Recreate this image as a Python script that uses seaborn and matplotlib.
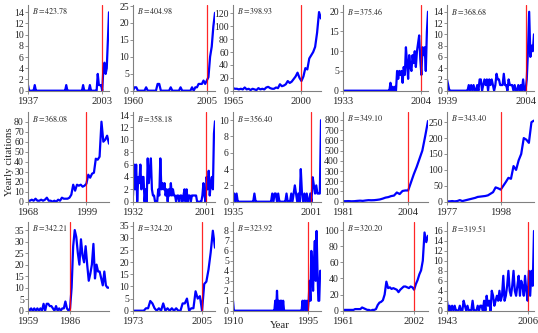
import numpy as np
import pandas as pd
import matplotlib.pyplot as plt
import seaborn as sns

START_YEARS = [1937, 1960, 1965, 1933, 1939,
               1968, 1932, 1935, 1981, 1977,
               1959, 1973, 1910, 1961, 1943]
BREAK_YEARS = [2003, 2005, 2000, 2004, 2004,
               1999, 2001, 2001, 2004, 1998,
               1986, 2005, 1995, 2002, 2006]
B_VALUES = [423.78, 404.98, 398.93, 375.46, 368.68,
            368.08, 358.18, 356.40, 349.10, 343.40,
            342.21, 324.20, 323.92, 320.20, 319.51]

cites_1 = [1, 0, 0, 0, 0, 0, 1, 0, 0, 0,
           0, 0, 0, 0, 0, 0, 0, 0, 0, 0,
           0, 0, 0, 0, 0, 0, 0, 0, 0, 0,
           0, 0, 0, 0, 1, 0, 0, 0, 0, 0,
           0, 0, 0, 0, 0, 0, 0, 0, 0, 1,
           0, 0, 0, 0, 0, 1, 0, 0, 0, 0,
           0, 0, 3, 1, 1, 1, 0, 4, 5, 3,
           4, 9, 14]
cites_2 = [0, 1, 1, 0, 0, 0, 0, 0, 1, 0,
           0, 0, 0, 0, 0, 2, 2, 0, 0, 0,
           0, 0, 0, 1, 0, 0, 0, 0, 0, 1,
           0, 0, 0, 0, 0, 0, 1, 0, 1, 1,
           2, 2, 2, 3, 2, 3, 4, 10, 13, 19,
           23]
cites_3 = [4, 3, 3, 2, 3, 2, 5, 2, 3, 1,
           3, 2, 1, 4, 2, 3, 2, 5, 6, 4,
           3, 3, 5, 4, 10, 7, 8, 10, 15, 12,
           14, 18, 22, 28, 20, 15, 22, 35, 33, 50,
           55, 60, 68, 90, 122, 112]
cites_4 = [0, 0, 0, 0, 0, 0, 0, 0, 0, 0,
           0, 0, 0, 0, 0, 0, 0, 0, 0, 0,
           0, 0, 0, 0, 0, 0, 0, 0, 0, 0,
           0, 0, 0, 0, 0, 0, 0, 0, 0, 0,
           0, 0, 0, 2, 0, 1, 0, 1, 0, 5,
           3, 5, 4, 5, 2, 6, 4, 11, 7, 3,
           9, 6, 5, 9, 7, 10, 6, 10, 12, 14,
           8, 4, 11, 9, 11, 5, 15, 20]
cites_5 = [2, 1, 0, 0, 0, 0, 0, 0, 0, 0,
           0, 0, 0, 0, 0, 0, 0, 0, 1, 0,
           1, 0, 1, 0, 0, 1, 0, 2, 2, 0,
           1, 2, 1, 2, 0, 2, 1, 2, 1, 0,
           1, 3, 2, 2, 1, 1, 1, 3, 1, 1,
           0, 2, 1, 1, 1, 0, 1, 0, 0, 1,
           0, 1, 0, 2, 0, 0, 2, 7, 14, 6,
           8, 7, 10]
cites_6 = [1, 1, 2, 1, 3, 1, 1, 2, 1, 2,
           4, 1, 1, 0, 1, 0, 2, 1, 4, 3,
           3, 3, 4, 7, 17, 11, 17, 16, 17, 15,
           16, 18, 27, 24, 28, 29, 43, 42, 45, 80,
           60, 62, 66, 58]
cites_7 = [1, 6, 2, 6, 0, 4, 3, 6, 2, 4,
           4, 0, 2, 0, 7, 3, 5, 7, 2, 1,
           1, 0, 0, 0, 2, 1, 7, 2, 3, 2,
           3, 1, 2, 0, 2, 1, 3, 1, 2, 1,
           1, 0, 1, 1, 0, 1, 1, 0, 1, 2,
           0, 2, 0, 1, 1, 0, 1, 1, 1, 1,
           1, 0, 0, 0, 0, 0, 1, 3, 1, 0,
           4, 2, 5, 1, 3, 4, 2, 11, 13]
cites_8 = [0, 1, 0, 1, 0, 0, 0, 0, 0, 0,
           0, 0, 0, 0, 0, 0, 0, 0, 1, 0,
           0, 0, 0, 0, 0, 0, 0, 0, 0, 0,
           0, 0, 0, 1, 0, 1, 1, 0, 1, 0,
           0, 0, 0, 0, 0, 1, 0, 0, 0, 1,
           0, 1, 2, 1, 0, 1, 0, 4, 1, 0,
           1, 0, 1, 0, 0, 1, 0, 3, 2, 1,
           2, 1, 1, 1, 10]
cites_9 = [5, 5, 6, 4, 5, 8, 10, 8, 12, 15,
           14, 15, 18, 22, 30, 40, 45, 55, 60, 90,
           75, 105, 110, 110, 190, 270, 340, 420, 500, 640,
           790]
cites_10 = [1, 1, 2, 1, 2, 5, 2, 4, 6, 8,
            10, 12, 15, 16, 17, 18, 20, 25, 30, 45,
            42, 38, 50, 62, 75, 72, 112, 100, 130, 150,
            200, 195, 185, 250, 255]
cites_11 = [1, 0, 1, 0, 1, 0, 1, 0, 1, 0,
            3, 0, 3, 3, 2, 2, 1, 0, 2, 0,
            1, 0, 1, 1, 4, 1, 0, 1, 10, 28,
            35, 32, 25, 20, 31, 24, 21, 28, 20, 13,
            16, 20, 29, 14, 20, 17, 17, 14, 11, 17,
            11, 10, 10]
cites_12 = [0, 0, 0, 0, 0, 0, 1, 1, 4, 3,
            1, 0, 1, 0, 3, 0, 1, 0, 1, 0,
            1, 0, 0, 3, 3, 5, 0, 1, 1, 8,
            5, 6, 0, 11, 12, 17, 24, 33, 26]
cites_13 = [1, 0, 0, 0, 0, 0, 0, 0, 0, 0,
            0, 0, 0, 0, 0, 0, 0, 0, 0, 0,
            0, 0, 0, 0, 0, 0, 0, 0, 0, 0,
            0, 0, 0, 0, 0, 0, 0, 0, 0, 0,
            0, 0, 0, 0, 0, 0, 0, 0, 1, 0,
            2, 0, 1, 0, 1, 1, 0, 1, 0, 0,
            0, 0, 0, 0, 0, 0, 0, 0, 0, 0,
            0, 0, 0, 0, 0, 0, 0, 0, 0, 1,
            0, 1, 1, 0, 1, 0, 1, 3, 1, 6,
            4, 2, 5, 7, 3, 8, 4, 1, 1, 4,
            4]
cites_14 = [1, 1, 1, 1, 1, 1, 1, 2, 2, 2,
            2, 4, 3, 2, 1, 1, 0, 1, 1, 2,
            7, 10, 11, 13, 20, 36, 28, 29, 27, 28,
            27, 26, 23, 26, 28, 30, 30, 29, 28, 30,
            29, 26, 33, 38, 45, 50, 62, 97, 85, 93]
cites_15 = [2, 0, 1, 0, 1, 0, 1, 0, 0, 0,
            1, 0, 0, 2, 1, 0, 1, 0, 0, 0,
            2, 0, 0, 0, 1, 0, 1, 1, 0, 2,
            0, 3, 1, 2, 0, 4, 3, 1, 2, 3,
            2, 4, 2, 3, 7, 2, 3, 5, 8, 4,
            3, 5, 8, 4, 3, 5, 7, 3, 6, 5,
            3, 7, 4, 2, 8, 3, 8, 5, 16]

ALL_CITES = [cites_1, cites_2, cites_3, cites_4, cites_5,
             cites_6, cites_7, cites_8, cites_9, cites_10,
             cites_11, cites_12, cites_13, cites_14, cites_15]

# axis styling per panel (y max, tick step)
Y_LIMITS = [15.3, 25.3, 133, 21.7, 15.2,
            89.7, 14.5, 11.0, 878, 282,
            38.5, 36.6, 8.9, 110, 17.8]
Y_STEPS = [2, 5, 20, 5, 2, 10, 2, 2, 100, 50, 5, 5, 1, 20, 2]

# panel frame in pixels of the 538x333 canvas
COL_LEFT = [28, 133, 233, 343, 447]
COL_RIGHT = [109, 215, 321, 428, 534]
ROW_TOP = [5, 112, 222]
ROW_BOTTOM = [90.7, 201.7, 310.7]
W, H = 538, 333


def build_frame():
    parts = []
    for i, (start, vals) in enumerate(zip(START_YEARS, ALL_CITES)):
        parts.append(pd.DataFrame({'panel': i,
                                   'year': np.arange(start, start + len(vals)),
                                   'cites': vals}))
    return pd.concat(parts, ignore_index=True)


def main():
    sns.set_theme(style="ticks")
    plt.rcParams['font.family'] = ['Liberation Serif', 'DejaVu Serif']
    plt.rcParams['mathtext.fontset'] = 'stix'

    df = build_frame()

    fig = plt.figure(figsize=(W / 100, H / 100), dpi=100)

    for i in range(15):
        r, c = divmod(i, 5)
        rect = [COL_LEFT[c] / W, 1 - ROW_BOTTOM[r] / H,
                (COL_RIGHT[c] - COL_LEFT[c]) / W,
                (ROW_BOTTOM[r] - ROW_TOP[r]) / H]
        ax = fig.add_axes(rect)
        d = df[df['panel'] == i]
        sns.lineplot(data=d, x='year', y='cites', ax=ax, color='#0000ff',
                     linewidth=1.6)
        ax.axvline(BREAK_YEARS[i], color='#ff0000', linewidth=0.9, alpha=0.85)

        ax.set_xlim(d['year'].min(), d['year'].max())
        ax.set_ylim(0, Y_LIMITS[i])
        ax.set_xticks([START_YEARS[i], BREAK_YEARS[i]])
        ax.set_yticks(np.arange(0, Y_LIMITS[i], Y_STEPS[i]))
        ax.set_xlabel('')
        ax.set_ylabel('')

        ax.spines[['top', 'right']].set_visible(False)
        for s in ['left', 'bottom']:
            ax.spines[s].set_color('0.5')
            ax.spines[s].set_linewidth(0.8)
        ax.tick_params(axis='both', direction='out', length=2, width=0.6,
                       color='0.5', pad=1)
        ax.tick_params(axis='y', labelsize=7.0)
        ax.tick_params(axis='x', labelsize=7.6, pad=2.2)

        ax.text(0.05, 0.985, rf'$B={B_VALUES[i]:.2f}$', transform=ax.transAxes,
                fontsize=5.8, ha='left', va='top')

    fig.text(10 / W, 1 - 162 / H, 'Yearly citations', rotation=90,
             va='center', ha='center', fontsize=7.8)
    fig.text(280 / W, 1 - 326 / H, 'Year', va='center', ha='center',
             fontsize=7.8)

    fig.savefig('out.png', dpi=100)
    plt.close(fig)


if __name__ == "__main__":
    main()
